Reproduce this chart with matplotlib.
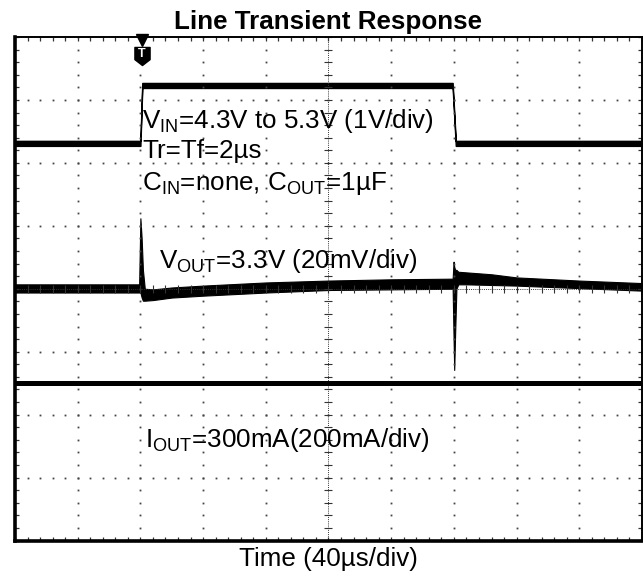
import matplotlib
matplotlib.use("Agg")
import matplotlib.pyplot as plt
import numpy as np
from matplotlib.path import Path

plt.rcParams['font.family'] = ['Liberation Sans', 'DejaVu Sans']
plt.rcParams['mathtext.fontset'] = 'custom'
plt.rcParams['mathtext.rm'] = 'Liberation Sans'
plt.rcParams['mathtext.it'] = 'Liberation Sans:italic'
plt.rcParams['mathtext.bf'] = 'Liberation Sans:bold'

# scope screen, 10 x 8 divisions (40us/div horizontal)
n_xdiv, n_ydiv = 10, 8

# V_IN step, noise envelope in divisions
vin_t = [0, 2.0, 2.03, 6.98, 7.03, 10]
vin_lo = [6.27, 6.27, 7.19, 7.19, 6.27, 6.27]
vin_hi = [6.35, 6.35, 7.27, 7.27, 6.35, 6.35]

# V_OUT trace, noise envelope (low / high) in divisions
vout_t = [0, 1.98, 2.0, 2.02, 2.04, 2.07, 2.2, 2.5, 3.0, 4.0, 5.0, 6.0, 6.98,
          6.995, 7.005, 7.02, 7.04, 7.07, 7.2, 7.6, 8.0, 9.0, 10]
vout_lo = [3.94, 3.94, 3.94, 3.86, 3.81, 3.81, 3.82, 3.86, 3.89, 3.94, 3.98, 3.99, 4.0,
           3.2, 2.71, 3.3, 4.0, 4.07, 4.07, 4.06, 4.05, 4.01, 3.97]
vout_hi = [4.07, 4.07, 5.12, 4.8, 4.3, 4.0, 3.99, 4.02, 4.05, 4.1, 4.13, 4.15, 4.16,
           4.43, 4.35, 4.3, 4.3, 4.27, 4.26, 4.23, 4.18, 4.13, 4.09]

# I_OUT, constant load
iout_t = [0, 10]
iout_v = [2.5, 2.5]

trig_t = 2.02

W, H = 643, 576
fig = plt.figure(figsize=(W / 100, H / 100), dpi=100)
ax = fig.add_axes([15 / W, (H - 540.5) / H, 627 / W, 503.5 / H])
ax.set_xlim(0, n_xdiv)
ax.set_ylim(0, n_ydiv)

# graticule: dotted major lines, dense centre lines, edge ticks
fine = np.arange(0, n_xdiv + 0.01, 0.2)
fine_y = np.arange(0, n_ydiv + 0.01, 0.2)
for gx in range(1, n_xdiv):
    if gx == 5:
        continue
    ax.plot(np.full_like(fine_y, gx), fine_y, ls='none', marker='s', ms=1.3,
            mew=0, color='#444444')
for gy in range(1, n_ydiv):
    if gy == 4:
        continue
    ax.plot(fine, np.full_like(fine, gy), ls='none', marker='s', ms=1.3,
            mew=0, color='#444444')
ax.axvline(5, ls=(0, (1, 1.2)), lw=0.7, color='#333333')
ax.axhline(4, ls=(0, (1, 1.2)), lw=0.7, color='#333333')
ax.plot(np.full_like(fine_y, 5), fine_y, ls='none', marker='_', ms=6, mew=0.8,
        color='#333333')
ax.plot(fine, np.full_like(fine, 4), ls='none', marker='|', ms=6, mew=0.8,
        color='#333333')

ax.set_xticks(fine)
ax.set_yticks(fine_y)
ax.tick_params(direction='in', length=3, width=0.9, color='#333333',
               top=True, right=True, labelbottom=False, labelleft=False)
for side, lw in [('left', 2.6), ('bottom', 2.6), ('top', 1.4), ('right', 1.4)]:
    ax.spines[side].set_linewidth(lw)
    ax.spines[side].set_color('black')

# traces
ax.fill_between(vin_t, vin_lo, vin_hi, color='black', lw=1.0, edgecolor='black')
ax.fill_between(vout_t, vout_lo, vout_hi, color='black', lw=0.8, edgecolor='black')
ax.plot(iout_t, iout_v, color='black', lw=3.6)

# trigger marker
ax.plot(trig_t, 7.95, marker='v', ms=8, color='black', clip_on=False)
shield = Path([(-0.84, 1), (0.84, 1), (0.84, -0.35), (0, -1), (-0.84, -0.35), (-0.84, 1)],
              [Path.MOVETO, Path.LINETO, Path.LINETO, Path.LINETO, Path.LINETO, Path.CLOSEPOLY])
ax.plot(trig_t, 7.70, marker=shield, ms=13, color='black', clip_on=False)
ax.text(trig_t, 7.73, 'T', color='white', fontsize=9, fontweight='bold',
        ha='center', va='center')

fs = 18.7
ax.text(2.03, 6.56, r'V$_{\mathrm{IN}}$=4.3V to 5.3V (1V/div)', fontsize=fs)
ax.text(2.03, 6.08, 'Tr=Tf=2µs', fontsize=fs)
ax.text(2.03, 5.57, r'C$_{\mathrm{IN}}$=none, C$_{\mathrm{OUT}}$=1µF', fontsize=fs)
ax.text(2.29, 4.33, r'V$_{\mathrm{OUT}}$=3.3V (20mV/div)', fontsize=fs)
ax.text(2.07, 1.49, r'I$_{\mathrm{OUT}}$=300mA(200mA/div)', fontsize=fs)

fig.text(328.5 / W, 1 - 29 / H, 'Line Transient Response', fontsize=fs,
         fontweight='bold', ha='center', va='baseline')
fig.text(328.5 / W, 1 - 566 / H, 'Time (40µs/div)', fontsize=fs,
         ha='center', va='baseline')

fig.savefig('out.png', dpi=100)
